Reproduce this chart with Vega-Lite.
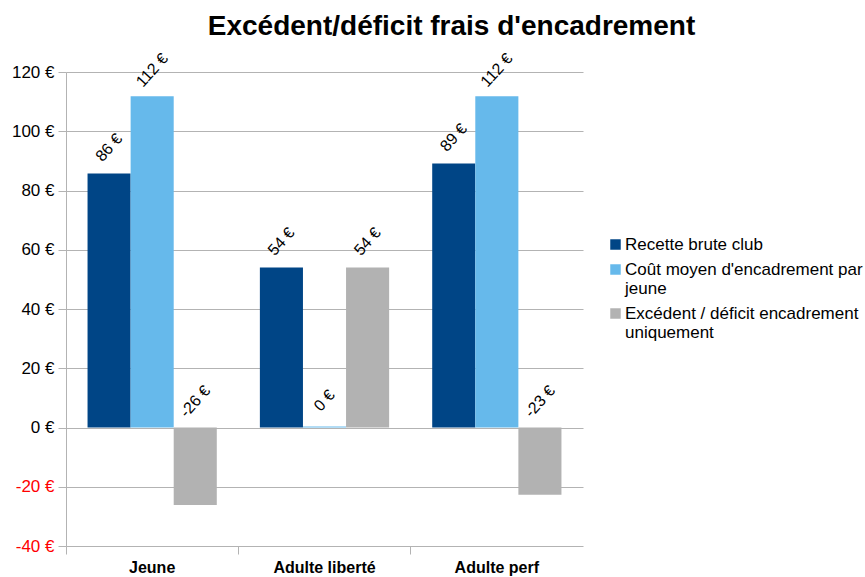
{
  "$schema": "https://vega.github.io/schema/vega-lite/v6.json",
  "width": 517,
  "height": 474,
  "autosize": "none",
  "padding": {"left": 66, "top": 72, "right": 282, "bottom": 31},
  "background": "white",
  "config": {"font": "Liberation Sans", "view": {"stroke": null}},
  "title": {
    "text": "Excédent/déficit frais d'encadrement",
    "fontSize": 28,
    "fontWeight": "bold",
    "font": "Liberation Sans",
    "color": "#000000",
    "anchor": "middle",
    "dx": 127,
    "offset": 10
  },
  "data": {
    "values": [
      {"cat": "Jeune", "serie": "Recette brute club", "value": 85.7},
      {"cat": "Jeune", "serie": "Coût moyen d'encadrement par jeune", "value": 111.8},
      {"cat": "Jeune", "serie": "Excédent / déficit encadrement uniquement", "value": -26.2},
      {"cat": "Adulte liberté", "serie": "Recette brute club", "value": 54},
      {"cat": "Adulte liberté", "serie": "Coût moyen d'encadrement par jeune", "value": 0.3},
      {"cat": "Adulte liberté", "serie": "Excédent / déficit encadrement uniquement", "value": 54},
      {"cat": "Adulte perf", "serie": "Recette brute club", "value": 89.1},
      {"cat": "Adulte perf", "serie": "Coût moyen d'encadrement par jeune", "value": 111.8},
      {"cat": "Adulte perf", "serie": "Excédent / déficit encadrement uniquement", "value": -22.7}
    ]
  },
  "transform": [
    {"calculate": "round(datum.value) + ' €'", "as": "label"},
    {"calculate": "max(datum.value, 0)", "as": "labelPos"}
  ],
  "encoding": {
    "x": {
      "field": "cat",
      "type": "nominal",
      "sort": ["Jeune", "Adulte liberté", "Adulte perf"],
      "scale": {"paddingInner": 0, "paddingOuter": 0},
      "axis": {
        "title": null,
        "labelAngle": 0,
        "labelFontSize": 16,
        "labelFontWeight": "bold",
        "labelColor": "#000000",
        "labelPadding": 5,
        "bandPosition": 0,
        "tickColor": "#b3b3b3",
        "tickSize": 8,
        "domain": false,
        "grid": false
      }
    },
    "xOffset": {
      "field": "serie",
      "type": "nominal",
      "sort": ["Recette brute club", "Coût moyen d'encadrement par jeune", "Excédent / déficit encadrement uniquement"],
      "scale": {"paddingInner": 0, "paddingOuter": 0.5}
    }
  },
  "layer": [
    {
      "mark": {"type": "bar"},
      "encoding": {
        "y": {
          "field": "value",
          "type": "quantitative",
          "scale": {"domain": [-40, 120], "nice": false},
          "axis": {
            "title": null,
            "values": [-40, -20, 0, 20, 40, 60, 80, 100, 120],
            "labelExpr": "datum.value + ' €'",
            "labelFontSize": 17,
            "labelColor": {"condition": {"test": "datum.value < 0", "value": "#ff0000"}, "value": "#000000"},
            "labelPadding": 4,
            "gridColor": "#b3b3b3",
            "domainColor": "#b3b3b3",
            "tickColor": "#b3b3b3",
            "tickSize": 8
          }
        },
        "color": {
          "field": "serie",
          "type": "nominal",
          "scale": {
            "domain": ["Recette brute club", "Coût moyen d'encadrement par jeune", "Excédent / déficit encadrement uniquement"],
            "range": ["#004586", "#66b9eb", "#b2b2b2"]
          },
          "legend": {
            "title": null,
            "orient": "none",
            "legendX": 541,
            "legendY": 164,
            "symbolType": "square",
            "symbolSize": 110,
            "symbolStrokeWidth": 0,
            "labelFontSize": 17,
            "labelLineHeight": 19,
            "labelColor": "#000000",
            "labelLimit": 400,
            "labelOffset": 1,
            "rowPadding": 7,
            "labelExpr": "datum.label == \"Coût moyen d'encadrement par jeune\" ? [\"Coût moyen d'encadrement par\", \"jeune\"] : datum.label == \"Excédent / déficit encadrement uniquement\" ? [\"Excédent / déficit encadrement\", \"uniquement\"] : datum.label"
          }
        }
      }
    },
    {
      "mark": {"type": "text", "angle": -48, "align": "center", "baseline": "middle", "fontSize": 16, "color": "#000000", "yOffset": -26, "xOffset": 2},
      "encoding": {
        "y": {"field": "labelPos", "type": "quantitative"},
        "text": {"field": "label"}
      }
    }
  ]
}
